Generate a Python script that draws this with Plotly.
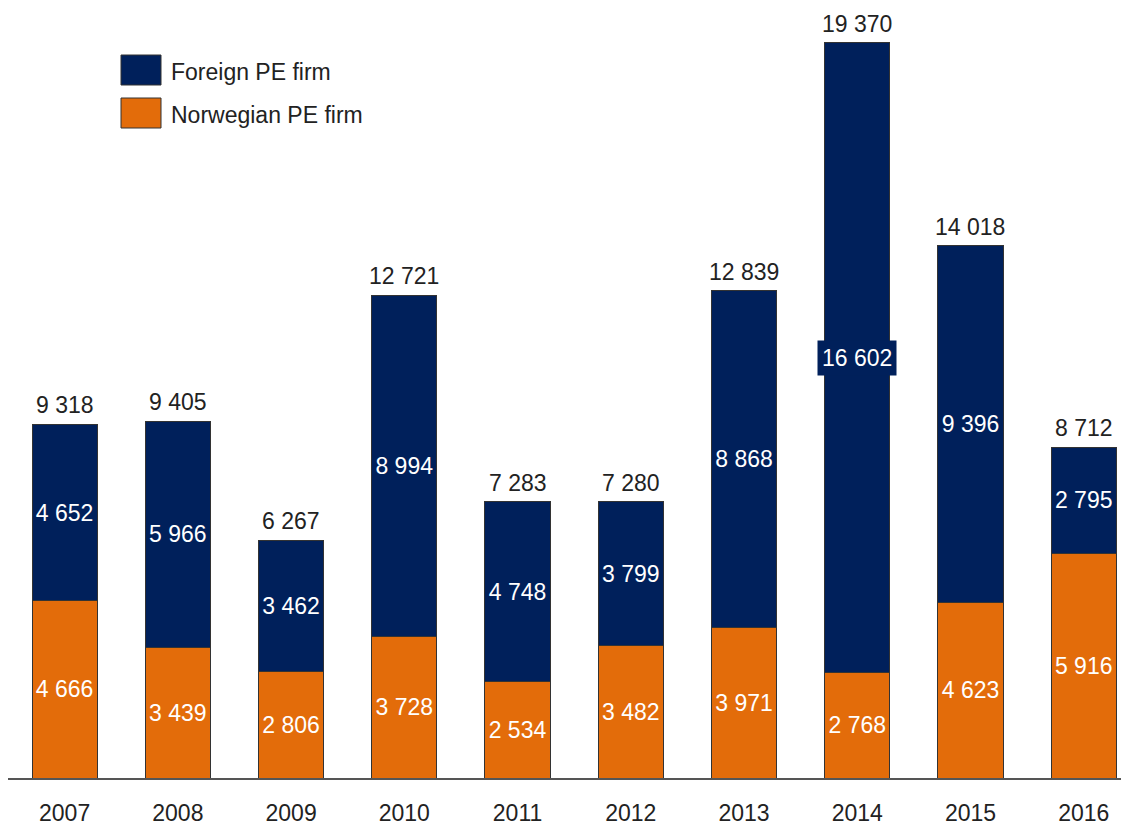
import plotly.graph_objects as go

years = ["2007", "2008", "2009", "2010", "2011", "2012", "2013", "2014", "2015", "2016"]
norwegian = [4666, 3439, 2806, 3728, 2534, 3482, 3971, 2768, 4623, 5916]
foreign = [4652, 5966, 3462, 8994, 4748, 3799, 8868, 16602, 9396, 2795]
totals = [9318, 9405, 6267, 12721, 7283, 7280, 12839, 19370, 14018, 8712]

NAVY = "#00205B"
ORANGE = "#E36C0A"
FONT = "Liberation Sans, Arial, sans-serif"
TXT = "#222222"
FS = 23


def fmt(v):
    return f"{v:,}".replace(",", " ")


# 2014 foreign label drawn as boxed annotation
foreign_text = [fmt(v) if y != "2014" else "" for v, y in zip(foreign, years)]

fig = go.Figure()
fig.add_trace(go.Bar(
    x=years, y=norwegian, name="Norwegian PE firm",
    marker=dict(color=ORANGE, line=dict(color="#333333", width=1)),
    text=[fmt(v) for v in norwegian], textposition="inside",
    insidetextanchor="middle", textangle=0,
    textfont=dict(color="white", size=FS, family=FONT),
))
fig.add_trace(go.Bar(
    x=years, y=foreign, name="Foreign PE firm",
    marker=dict(color=NAVY, line=dict(color="#333333", width=1)),
    text=foreign_text, textposition="inside",
    insidetextanchor="middle", textangle=0,
    textfont=dict(color="white", size=FS, family=FONT),
))

annotations = []
for i, t in enumerate(totals):
    annotations.append(dict(x=i, y=t, text=fmt(t), showarrow=False,
                            yanchor="bottom", yshift=4,
                            font=dict(size=FS, color=TXT, family=FONT)))
i = years.index("2014")
annotations.append(dict(x=i, y=norwegian[i] + foreign[i] / 2, text=fmt(foreign[i]),
                        showarrow=False, bgcolor=NAVY, borderpad=4,
                        font=dict(size=FS, color="white", family=FONT)))

# custom legend (page pixels -> paper coords; page has 8px body margin)
W, H = 1121, 770
def px_x(p):
    return (p - 8) / W
def px_y(p):
    return (778 - p) / H

shapes = []
legend_items = [("Foreign PE firm", NAVY, 55, 85), ("Norwegian PE firm", ORANGE, 98, 128)]
for label, col, y0, y1 in legend_items:
    shapes.append(dict(type="rect", xref="paper", yref="paper",
                       x0=px_x(121), x1=px_x(161), y0=px_y(y1), y1=px_y(y0),
                       fillcolor=col, line=dict(color="#333333", width=1)))
    annotations.append(dict(xref="paper", yref="paper", x=px_x(169), y=px_y((y0 + y1) / 2 + 2),
                            text=label, showarrow=False, xanchor="left", yanchor="middle",
                            font=dict(size=FS, color=TXT, family=FONT)))

fig.update_layout(
    barmode="stack", bargap=0.425,
    width=1121, height=819,
    margin=dict(l=0, r=0, t=0, b=49, autoexpand=False),
    plot_bgcolor="white", paper_bgcolor="white",
    showlegend=False,
    uniformtext=dict(mode=False),
    annotations=annotations, shapes=shapes,
    font=dict(family=FONT, color=TXT),
    xaxis=dict(type="category", range=[-0.5, 9.4], showline=True, linecolor="#555555",
               linewidth=1.5, ticks="outside", ticklen=14, tickcolor="rgba(0,0,0,0)",
               tickfont=dict(size=FS, color=TXT, family=FONT), showgrid=False,
               automargin=False),
    yaxis=dict(range=[0, 770 / 0.03795], visible=False, showgrid=False, zeroline=False),
)

fig.write_html("out.html")
